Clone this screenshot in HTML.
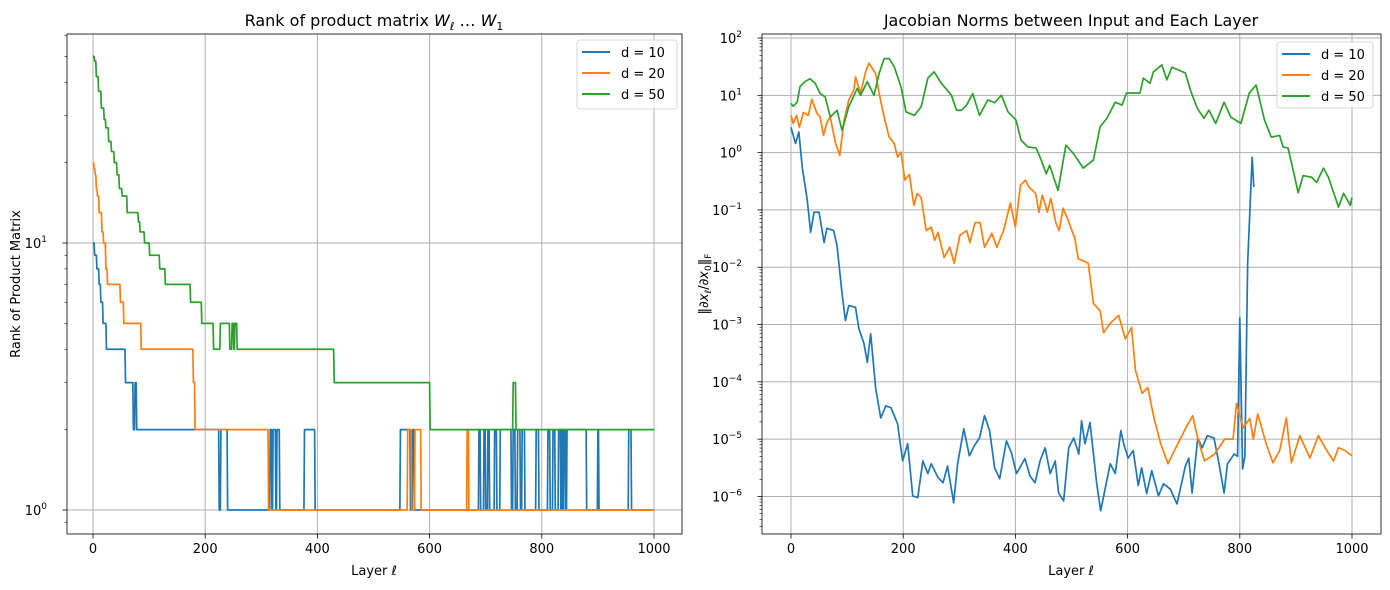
<!DOCTYPE html>
<html><head><meta charset="utf-8">
<style>
html,body{margin:0;padding:0;background:#fff;}
svg{display:block;font-family:"DejaVu Sans","Liberation Sans",sans-serif;}
</style></head>
<body>
<svg id="fig" width="1390" height="590" viewBox="0 0 1390 590" xmlns="http://www.w3.org/2000/svg"></svg>
<script>
// ---------- Left chart data (rank step functions: change layers and ranks) ----------
const rankLayersD10 = [0,3,7,11,14,18,24,58,72,75,78,225,228,240,316,319,321,326,328,333,377,396,548,566,570,573,688,691,697,700,704,707,716,720,726,746,749,753,757,762,765,770,790,795,811,815,820,824,830,834,836,838,840,843,845,880,900,902,955,960];
const rankValsD10  = [10,9,8,7,6,5,4,3,2,3,2,1,2,1,2,1,2,1,2,1,2,1,2,1,2,1,2,1,2,1,2,1,2,1,2,1,2,1,2,1,2,1,2,1,2,1,2,1,2,1,2,1,2,1,2,1,2,1,2,1];
const rankLayersD20 = [0,2,4,6,8,11,16,19,23,26,49,55,86,176,179,182,313,561,568,574,585,667,670];
const rankValsD20  = [20,19,18,16,15,13,11,10,8,7,6,5,4,4,3,2,1,2,1,2,1,2,1];
const rankLayersD50 = [0,3,6,10,15,20,23,28,33,38,43,47,52,61,81,84,92,101,119,129,174,194,215,227,244,248,251,253,257,430,601,749,754];
const rankValsD50  = [50,48,42,37,32,29,27,24,22,20,18,16,15,13,12,11,10,9,8,7,6,5,4,5,4,5,4,5,4,3,2,3,2];
const rankEndLayer = 1000;

// ---------- Right chart data (log10 of Jacobian norm) ----------
const jacLayersD50 = [0,4,11,16,25,34,43,52,61,70,82,91,103,118,124,136,148,157,166,175,184,196,205,220,232,244,255,268,286,295,304,313,324,336,351,363,375,387,401,410,422,437,446,455,461,476,490,503,521,539,551,563,578,590,598,622,628,640,646,661,670,679,691,703,712,724,736,745,757,772,784,802,817,829,844,856,871,877,886,898,904,913,928,937,949,958,976,985,997,1000];
const jacLogD50 = [0.86,0.81,0.88,1.15,1.24,1.29,1.21,1.03,0.97,0.62,0.74,0.39,0.8,1.12,1.0,1.24,1.0,1.38,1.64,1.64,1.5,1.15,0.71,0.65,0.8,1.3,1.41,1.21,1.0,0.74,0.74,0.83,1.03,0.65,0.92,0.87,1.0,0.71,0.57,0.22,0.1,0.08,-0.13,-0.37,-0.22,-0.66,0.13,-0.01,-0.27,-0.13,0.45,0.6,0.88,0.83,1.04,1.04,1.3,1.21,1.41,1.53,1.27,1.49,1.44,1.39,1.09,0.78,0.6,0.74,0.51,0.88,0.62,0.51,1.04,1.18,0.57,0.27,0.3,0.1,0.08,-0.43,-0.7,-0.4,-0.43,-0.52,-0.27,-0.43,-0.95,-0.71,-0.92,-0.78];
const jacLayersD20 = [0,4,10,15,22,31,37,46,52,58,64,70,79,87,94,103,112,115,124,133,139,151,157,166,175,184,190,196,203,211,219,225,232,241,250,256,262,273,283,291,301,313,319,328,337,345,358,367,379,391,400,409,418,424,436,442,448,457,463,472,478,485,494,506,512,530,539,551,557,569,584,596,607,614,626,636,647,659,672,686,704,716,725,737,755,773,788,794,806,818,824,832,847,859,871,883,892,907,925,940,952,967,976,988,1000];
const jacLogD20 = [0.65,0.51,0.65,0.44,0.7,0.65,0.93,0.69,0.62,0.3,0.53,0.62,0.18,-0.05,0.53,0.92,1.09,1.32,1.04,1.41,1.56,1.38,1.04,0.62,0.27,0.16,-0.08,0.01,-0.48,-0.38,-0.92,-0.71,-0.78,-1.36,-1.3,-1.53,-1.39,-1.83,-1.65,-1.93,-1.44,-1.36,-1.57,-1.22,-1.22,-1.65,-1.41,-1.65,-1.36,-0.88,-1.3,-0.57,-0.48,-0.6,-0.71,-1.04,-0.74,-1.04,-0.8,-1.22,-1.36,-0.97,-1.18,-1.5,-1.85,-1.93,-2.63,-2.76,-3.14,-2.98,-2.84,-3.25,-3.05,-3.8,-4.2,-4.1,-4.63,-5.08,-5.43,-5.15,-4.8,-4.59,-4.98,-5.38,-5.26,-5.0,-5.0,-4.38,-4.8,-4.64,-5.0,-4.56,-5.08,-5.41,-5.2,-4.63,-5.41,-4.94,-5.33,-4.94,-5.15,-5.38,-5.15,-5.2,-5.29];
const jacLayersD10 = [0,8,14,20,29,35,41,50,59,64,76,82,91,97,103,115,121,130,136,142,151,160,169,178,190,199,208,217,226,235,244,250,262,271,279,290,297,308,318,327,336,345,354,363,372,384,393,402,417,426,435,444,453,462,471,477,486,495,504,513,518,524,533,545,552,569,578,588,593,601,610,619,625,634,643,655,664,676,688,703,709,715,725,733,742,754,763,772,778,790,796,800,805,809,814,822,825];
const jacLogD10 = [0.44,0.16,0.36,-0.25,-0.83,-1.39,-1.04,-1.04,-1.57,-1.32,-1.36,-1.62,-2.46,-2.93,-2.67,-2.7,-3.07,-3.33,-3.66,-3.16,-4.12,-4.63,-4.42,-4.45,-4.73,-5.38,-5.08,-5.99,-6.02,-5.38,-5.6,-5.43,-5.67,-5.76,-5.47,-6.11,-5.43,-4.82,-5.29,-5.11,-4.98,-4.59,-4.85,-5.5,-5.69,-5.03,-5.24,-5.6,-5.34,-5.64,-5.76,-5.38,-5.15,-5.6,-5.38,-5.94,-6.08,-5.15,-4.98,-5.26,-4.68,-5.08,-4.71,-5.78,-6.25,-5.43,-5.6,-4.85,-5.08,-5.33,-5.2,-5.81,-5.5,-5.95,-5.55,-5.99,-5.78,-5.87,-6.13,-5.47,-5.33,-5.94,-4.98,-5.15,-4.94,-4.98,-5.43,-5.94,-5.43,-5.26,-5.3,-2.88,-5.52,-5.3,-1.93,-0.08,-0.6];

const xTicks = [0,200,400,600,800,1000];
const leftDecades = [0,1];
const rightDecades = [-6,-5,-4,-3,-2,-1,0,1,2];
const legendLabels = ["d = 10","d = 20","d = 50"];
const colors = ["#1f77b4","#ff7f0e","#2ca02c"];

const NS = "http://www.w3.org/2000/svg";
const svg = document.getElementById("fig");
function mk(tag, attrs, parent){ const e=document.createElementNS(NS,tag); for(const k in attrs) e.setAttribute(k,attrs[k]); (parent||svg).appendChild(e); return e; }

const L = {x0:67,x1:682,y0:34,y1:534, xAt0:93, xScale:0.561, logMin:-0.0899, logMax:1.7828};
const R = {x0:762,x1:1381,y0:34,y1:534, xAt0:791, xScale:0.561, logMin:-6.655, logMax:2.07};
function xs(ax,v){ return ax.xAt0 + v*ax.xScale; }
function ys(ax,lg){ return ax.y1 - (lg-ax.logMin)/(ax.logMax-ax.logMin)*(ax.y1-ax.y0); }

function drawAxes(ax, decades, name){
  const g = mk("g",{});
  
  
  xTicks.forEach(t=>{
    const x=xs(ax,t);
    const l=mk("line",{x1:x,x2:x,y1:ax.y0,y2:ax.y1,stroke:"#b0b0b0","stroke-width":1},g);
    
    
    mk("line",{x1:x,x2:x,y1:ax.y1,y2:ax.y1+4.5,stroke:"#000","stroke-width":0.8},g);
    const tx=mk("text",{x:x,y:ax.y1+19,"font-size":"13","text-anchor":"middle",fill:"#000"},g);
    tx.textContent=t;
    
    
  });
  decades.forEach(d=>{
    const y=ys(ax,d);
    const l=mk("line",{x1:ax.x0,x2:ax.x1,y1:y,y2:y,stroke:"#b0b0b0","stroke-width":1},g);
    
    
    mk("line",{x1:ax.x0-4.5,x2:ax.x0,y1:y,y2:y,stroke:"#000","stroke-width":0.8},g);
    const tx=mk("text",{x:ax.x0-20,y:y+5,"font-size":"13","text-anchor":"end",fill:"#000"},g);
    tx.textContent="10";
    const sp=mk("tspan",{dy:"-6","font-size":"9"},tx);
    sp.textContent=(d<0?"\u2212"+(-d):String(d));
    
    
  });
  for(let d=Math.floor(ax.logMin); d<=Math.ceil(ax.logMax); d++){
    for(let m=2;m<=9;m++){
      const lg=d+Math.log10(m);
      if(lg<ax.logMin||lg>ax.logMax) continue;
      const y=ys(ax,lg);
      mk("line",{x1:ax.x0-2.5,x2:ax.x0,y1:y,y2:y,stroke:"#000","stroke-width":0.6},g);
    }
  }
  const frame=mk("rect",{x:ax.x0,y:ax.y0,width:ax.x1-ax.x0,height:ax.y1-ax.y0,fill:"none",stroke:"#000","stroke-width":0.8},g);
  
  
}

function stepPath(ax, layers, vals){
  let d="";
  for(let i=0;i<layers.length;i++){
    const y=ys(ax,Math.log10(vals[i]));
    d += (i===0?"M":" L")+xs(ax,layers[i])+" "+y;
    const nextL = i+1<layers.length ? layers[i+1]-1 : rankEndLayer;
    d+=" L"+xs(ax,Math.max(nextL,layers[i]))+" "+y;
  }
  return d;
}
function linePath(ax, layers, logs){
  return layers.map((l,i)=>(i?"L":"M")+xs(ax,l)+" "+ys(ax,logs[i])).join(" ");
}

function legend(x,y,w,h,name){
  const g=mk("g",{});
  
  
  mk("rect",{x:x,y:y,width:w,height:h,rx:3,fill:"#fff","fill-opacity":0.8,stroke:"#cccccc","stroke-width":0.8},g);
  legendLabels.forEach((lab,i)=>{
    const yy=y+12+i*21;
    const ln=mk("line",{x1:x+5,x2:x+33,y1:yy,y2:yy,stroke:colors[i],"stroke-width":2},g);
    
    
    const t=mk("text",{x:x+44,y:yy+5,"font-size":"13",fill:"#000"},g);
    t.textContent=lab;
    
    
  });
}

drawAxes(L, leftDecades, "rank");
[[rankLayersD10,rankValsD10],[rankLayersD20,rankValsD20],[rankLayersD50,rankValsD50]].forEach((s,i)=>{
  const p=mk("path",{d:stepPath(L,s[0],s[1]),fill:"none",stroke:colors[i],"stroke-width":1.7,"stroke-linejoin":"round"});
  
  
});
legend(577,40,100,69,"rank-legend");

drawAxes(R, rightDecades, "jacobian");
[[jacLayersD10,jacLogD10],[jacLayersD20,jacLogD20],[jacLayersD50,jacLogD50]].forEach((s,i)=>{
  const p=mk("path",{d:linePath(R,s[0],s[1]),fill:"none",stroke:colors[i],"stroke-width":1.7,"stroke-linejoin":"round"});
  
  
});
legend(1277,42,96,66,"jacobian-legend");

function txt(x,y,s,size,name,extra){
  const t=mk("text",Object.assign({x:x,y:y,"font-size":size,"text-anchor":"middle",fill:"#000"},extra||{}));
  t.innerHTML=s;
  
  
  return t;
}
txt(374,26,'Rank of product matrix <tspan font-style="italic">W</tspan><tspan font-size="11" dy="4">ℓ</tspan><tspan dy="-4"> … </tspan><tspan font-style="italic">W</tspan><tspan font-size="11" dy="4">1</tspan>',16,"left-title");
txt(1071,26,'Jacobian Norms between Input and Each Layer',16,"right-title");
txt(374,575,'Layer <tspan font-style="italic">ℓ</tspan>',13,"left-x-axis-title");
txt(1071,575,'Layer <tspan font-style="italic">ℓ</tspan>',13,"right-x-axis-title");
txt(20,284,'Rank of Product Matrix',13,"left-y-axis-title",{transform:"rotate(-90 20 284)"});
txt(708,284,'‖∂<tspan font-style="italic">x</tspan><tspan font-size="9" dy="3">ℓ</tspan><tspan dy="-3">/∂</tspan><tspan font-style="italic">x</tspan><tspan font-size="9" dy="3">0</tspan><tspan dy="-3">‖</tspan><tspan font-size="9" dy="3">F</tspan>',13,"right-y-axis-title",{transform:"rotate(-90 708 284)"});
</script>
</body></html>
